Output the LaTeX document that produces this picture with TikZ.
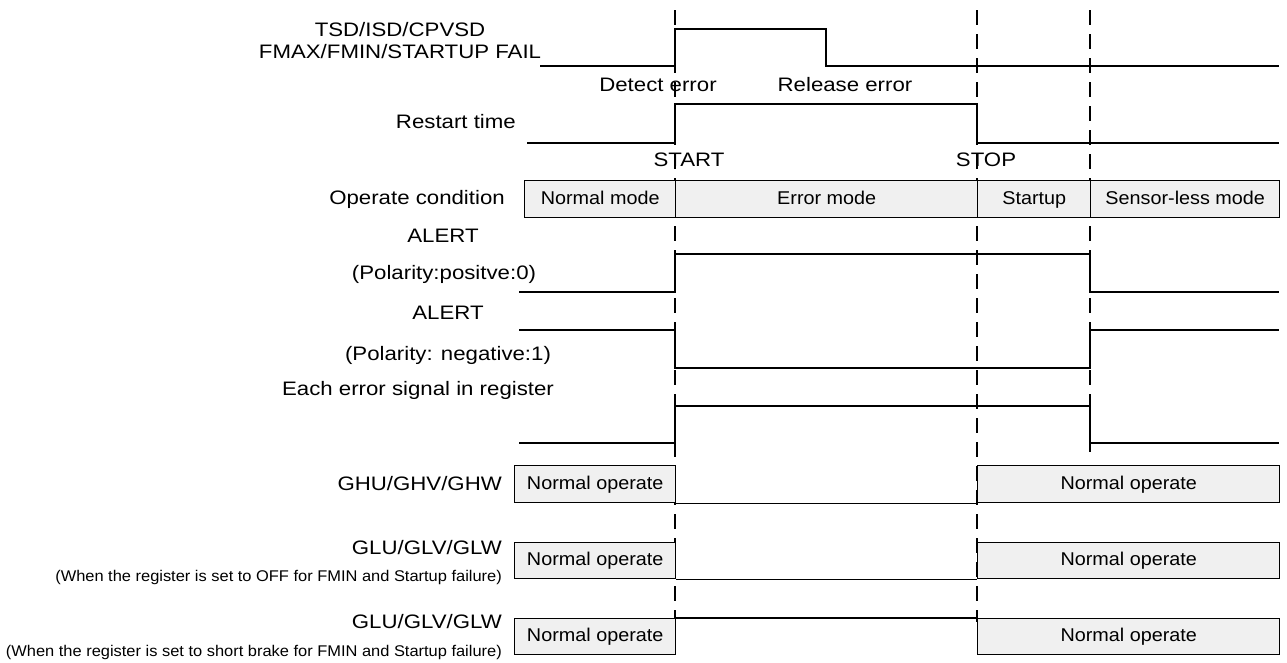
\documentclass[tikz,border=0pt]{standalone}
\usepackage{fontspec}
\setmainfont{Liberation Sans}
\newfontfamily\widefont[FakeStretch=1.14]{Liberation Sans}
\newfontfamily\boxfont[FakeStretch=1.07]{Liberation Sans}
\newfontfamily\subfont[FakeStretch=1.06]{Liberation Sans}
\definecolor{boxgray}{HTML}{F0F0F0}
\begin{document}
\begin{tikzpicture}[x=1pt,y=-1pt,
  sig/.style={line width=1.6pt, line join=miter},
  guide/.style={line width=2pt, dash pattern=on 15pt off 9pt},
  modebox/.style={draw, line width=1.4pt, fill=boxgray, inner sep=0pt, anchor=north west, text height=13.5pt, text depth=3.5pt, font=\boxfont\fontsize{18.5}{20}\selectfont},
  lbl/.style={inner sep=0pt, font=\widefont\fontsize{19.5}{22}\selectfont},
  sublbl/.style={inner sep=0pt, font=\subfont\fontsize{15.5}{17}\selectfont}]
\useasboundingbox (0,0) rectangle (1287,662);
\fill[white] (0,0) rectangle (1287,662);

% time markers
\coordinate (t0) at (675,10);
\coordinate (t1) at (977,10);
\coordinate (t2) at (1090,10);
\draw[guide] (t0) -- (675,622);
\draw[guide] (t1) -- (977,622);
\draw[guide] (t2) -- (1090,452);

% top signal
\node[lbl, align=center] (lfail) at (400,41) {TSD/ISD/CPVSD\\FMAX/FMIN/STARTUP FAIL};
\draw[sig] (540,66) -- (675,66) -- (675,29) -- (826,29) -- (826,66) -- (1279,66);
\node[lbl] (ldet) at (658,85) {Detect error};
\node[lbl] (lrel) at (845,85) {Release error};

% restart time
\node[lbl, anchor=east] (lrst) at (516,122) {Restart time};
\draw[sig] (527,143) -- (675,143) -- (675,104) -- (977,104) -- (977,143) -- (1279,143);
\node[lbl] (lstart) at (689,160) {START};
\node[lbl] (lstop) at (986,160) {STOP};

% operate condition
\node[lbl, anchor=east] (lop) at (505,199) {Operate condition};
\node[modebox, minimum width=151pt, minimum height=37pt] (nm) at (524,180) {Normal mode};
\node[modebox, minimum width=302pt, minimum height=37pt] (em) at (675,180) {Error mode};
\node[modebox, minimum width=113pt, minimum height=37pt] (su) at (977,180) {Startup};
\node[modebox, minimum width=189pt, minimum height=37pt] (sl) at (1090,180) {Sensor-less mode};

% ALERT positive
\node[lbl] (la1) at (443,236) {ALERT};
\node[lbl] (la1b) at (444,274) {(Polarity:positve:0)};
\draw[sig] (519,292) -- (675,292) -- (675,254) -- (1090,254) -- (1090,292) -- (1279,292);

% ALERT negative
\node[lbl] (la2) at (448,313) {ALERT};
\node[lbl] (la2b) at (448,355) {(Polarity: negative:1)};
\draw[sig] (519,330) -- (675,330) -- (675,368) -- (1090,368) -- (1090,330) -- (1279,330);

% each error signal
\node[lbl] (leach) at (418,390) {Each error signal in register};
\draw[sig] (519,443) -- (675,443) -- (675,406) -- (1090,406) -- (1090,443) -- (1279,443);

% GHU
\node[lbl, anchor=east] (lghu) at (502,484) {GHU/GHV/GHW};
\node[modebox, minimum width=161pt, minimum height=37pt] (ghua) at (514,465) {Normal operate};
\node[modebox, minimum width=302pt, minimum height=37pt] (ghub) at (977,465) {Normal operate};
\draw[sig] (ghua.south east) -- (ghub.south west);

% GLU off
\node[lbl, anchor=east] (lglu1) at (502,548) {GLU/GLV/GLW};
\node[sublbl, anchor=east] (lglu1b) at (502,577) {(When the register is set to OFF for FMIN and Startup failure)};
\node[modebox, minimum width=161pt, minimum height=36pt] (glua) at (514,542) {Normal operate};
\node[modebox, minimum width=302pt, minimum height=36pt] (glub) at (977,542) {Normal operate};
\draw[sig] (glua.south east) -- (glub.south west);

% GLU short brake
\node[lbl, anchor=east] (lglu2) at (502,622) {GLU/GLV/GLW};
\node[sublbl, anchor=east] (lglu2b) at (502,652) {(When the register is set to short brake for FMIN and Startup failure)};
\node[modebox, minimum width=161pt, minimum height=36pt] (glsa) at (514,618) {Normal operate};
\node[modebox, minimum width=302pt, minimum height=36pt] (glsb) at (977,618) {Normal operate};
\draw[sig] (glsa.north east) -- (glsb.north west);
\end{tikzpicture}
\end{document}
